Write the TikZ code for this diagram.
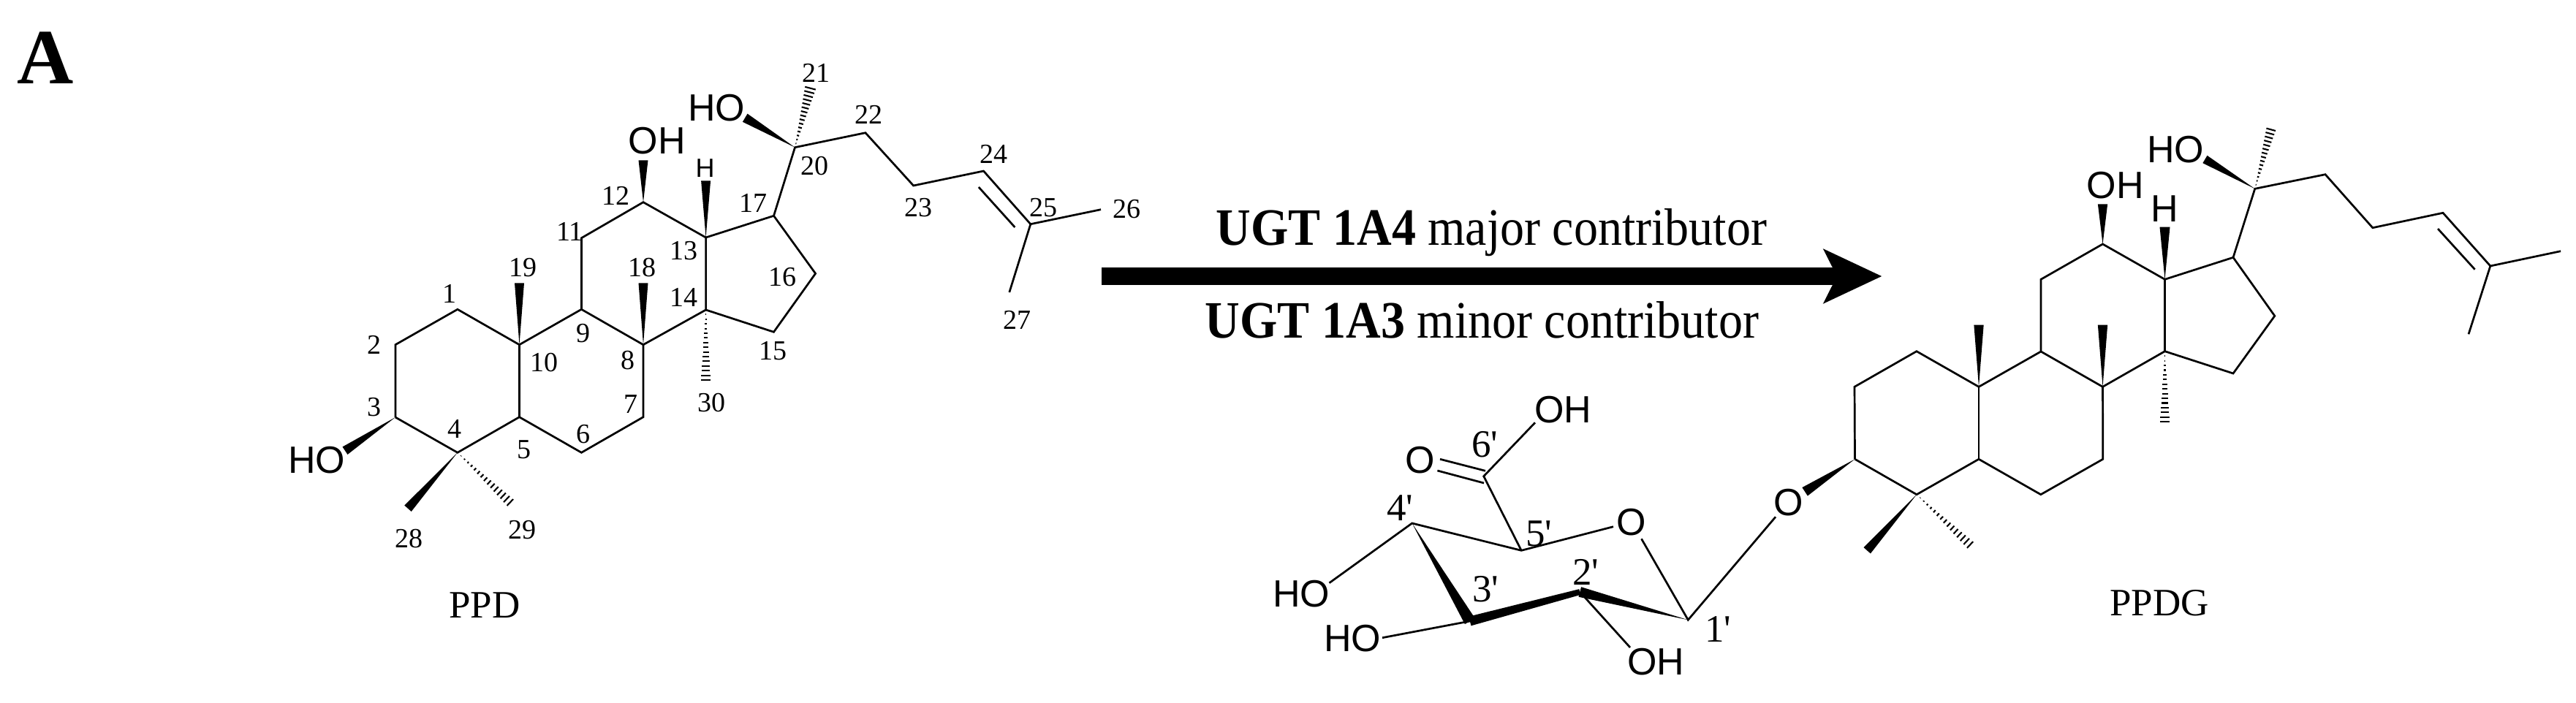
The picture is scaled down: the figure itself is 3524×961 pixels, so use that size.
\documentclass[tikz,border=0pt]{standalone}
\usepackage{fontspec}
\usetikzlibrary{calc,arrows.meta}
\newfontfamily\chemserif{Liberation Serif}
\newfontfamily\chemsans{Liberation Sans}
\tikzset{
  bond/.style={draw=black,line width=2.7pt,line join=miter},
  hashline/.style={draw=black,line width=2.1pt},
  numlbl/.style={inner sep=0pt,font=\chemserif\fontsize{38}{40}\selectfont},
  primelbl/.style={inner sep=0pt,font=\chemserif\fontsize{53}{55}\selectfont},
  namelbl/.style={inner sep=0pt,font=\chemserif\fontsize{53}{55}\selectfont},
  atomlbl/.style={inner sep=0pt,font=\chemsans\fontsize{52}{55}\selectfont},
  smallatom/.style={inner sep=0pt,font=\chemsans\fontsize{36}{38}\selectfont},
  reactlbl/.style={inner sep=0pt,anchor=base,font=\chemserif\fontsize{66}{68}\selectfont},
  panellbl/.style={inner sep=0pt,font=\chemserif\bfseries\fontsize{107}{110}\selectfont},
  bigarrow/.style={draw=black,line width=24pt,-{Stealth[length=79pt,width=72.6pt,inset=17.5pt]}}
}
\newcommand{\wdg}[3]{\fill[black] (#1) -- ($(#2)!#3/2!90:(#1)$) -- ($(#2)!#3/2!-90:(#1)$) -- cycle;}
\newcommand{\hsh}[3]{\foreach \i in {1,...,15}{
  \pgfmathsetmacro{\f}{\i/15}
  \draw[hashline] ($(#1)!\f!(#2)!\f*#3/2!90:(#1)$) -- ($(#1)!\f!(#2)!\f*#3/2!-90:(#1)$);}}
\begin{document}
\begin{tikzpicture}[x=1pt,y=-1pt]
\path[fill=white,use as bounding box] (0,0) rectangle (3524,961);
\node[panellbl] (panel) at (62,79.5) {A};

% ---------- PPD atoms
\foreach \n/\x/\y in {a1/625.9/423.3,a2/540.9/471.7,a3/540.9/571,a4/625.9/619.3,a5/710.5/570.7,a6/795.4/619.3,
 a7/880/570.7,a8/880/471.7,a9/795.4/423.3,a10/710.5/471.7,a11/795.4/325.7,a12/880/276.7,a13/965.6/325,a14/965.6/424,
 a15/1058.5/454.3,a16/1115.6/374.3,a17/1058.5/295.3,a20/1087.5/201.7,a22/1183.9/181.7,a23/1249.6/254,a24/1345.5/234,
 a25/1409.8/306.7,a26/1506/286.7,a27/1380.8/400,a24i/1338.8/256,a25i/1388.4/311,
 a12w/880/219.3,a13w/965.6/247.3,a18w/880/387.3,a19w/710.5/387.3,a3w/472/616.7,a28w/558/695.8,a29h/697.8/687.5,
 a30h/965.6/520,a20w/1019.2/161.2,a21h/1108.5/120.7}
 {\coordinate (\n) at (\x,\y);}

\draw[bond] (a3)--(a2)--(a1)--(a10)--(a9)--(a8)--(a14)--(a13)--(a12)--(a11)--(a9);
\draw[bond] (a3)--(a4)--(a5)--(a6)--(a7)--(a8);
\draw[bond] (a10)--(a5);
\draw[bond] (a13)--(a17)--(a16)--(a15)--(a14);
\draw[bond] (a17)--(a20)--(a22)--(a23)--(a24)--(a25)--(a26);
\draw[bond] (a25)--(a27);
\draw[bond] (a24i)--(a25i);
\wdg{a12}{a12w}{13pt}
\wdg{a13}{a13w}{13pt}
\wdg{a8}{a18w}{13pt}
\wdg{a10}{a19w}{13pt}
\wdg{a3}{a3w}{12.6pt}
\wdg{a4}{a28w}{12.6pt}
\wdg{a20}{a20w}{13pt}
\hsh{a4}{a29h}{12.3pt}
\hsh{a14}{a30h}{13.4pt}
\hsh{a20}{a21h}{15pt}

\node[atomlbl] (aOH12) at (898.7,193) {OH};
\node[atomlbl] (aHO3) at (433,630) {HO};
\node[atomlbl] (aHO20) at (980,148) {HO};
\node[smallatom] (aH13) at (964.7,230) {H};
\foreach \n/\x/\y in {1/614.8/402.3,2/512.2/471.7,3/512.2/557.3,4/622.4/586.7,5/717/615,6/798/594.3,7/863/553.3,
 8/859.3/493.3,9/798/456,10/744.5/496,11/779.3/316.7,12/842/268.3,13/935.7/343.3,14/935.7/406.7,15/1057.6/480,
 16/1070.5/379,17/1030.8/277.7,18/878.9/365.7,19/715.8/365.7,20/1114/226.7,21/1116.5/100,22/1188/157.3,23/1256/284,
 24/1359/211,25/1427.7/284.3,26/1541.5/286,27/1391/438.3,28/559/737.3,29/714.3/725,30/973/551}
 {\node[numlbl] (n\n) at (\x,\y) {\n};}
\node[namelbl] (ppd) at (662.7,828.3) {PPD};

% ---------- reaction arrow
\coordinate (arrowfrom) at (1507.4,378);
\coordinate (arrowto) at (2574.5,378);
\draw[bigarrow] (arrowfrom) -- (arrowto);
\node[reactlbl] (major) at (2040.5,335) {\scalebox{1}[1.09]{\textbf{UGT 1A4} major contributor}};
\node[reactlbl] (minor) at (2027.5,462) {\scalebox{1}[1.09]{\textbf{UGT 1A3} minor contributor}};

% ---------- PPDG atoms
\foreach \n/\x/\y in {b1/2621.9/480.7,b2/2537/529.3,b3/2537.5/628.3,b4/2622/676.7,b5/2707/628.3,b6/2791.8/676.7,b7/2876.8/628.3,
 b8/2876.5/529.3,b9/2792/481,b10/2707/529.3,b11/2792/382.3,b12/2876.5/334,b13/2961.5/382.3,b14/2961.5/480.7,
 b15/3055/511,b16/3111.8/432.3,b17/3055/352.3,b20/3084.7/258.3,b22/3181/238.7,b23/3245.8/311.7,b24/3342/291.3,
 b25/3406.8/364,b26/3503/343.7,b27/3377/457.3,b24i/3335/313,b25i/3385.6/368.7,
 b12w/2876.5/279.3,b13w/2961.5/310.7,b18w/2876.5/444.7,b19w/2707/444.7,b3w/2469.1/672.8,b28w/2554.2/753.3,b29h/2695/745.5,
 b30h/2961.5/577.3,b20w/3016.4/218,b21h/3106.7/177.3}
 {\coordinate (\n) at (\x,\y);}

\draw[bond] (b3)--(b2)--(b1)--(b10)--(b9)--(b8)--(b14)--(b13)--(b12)--(b11)--(b9);
\draw[bond] (b3)--(b4)--(b5)--(b6)--(b7)--(b8);
\draw[bond] (b10)--(b5);
\draw[bond] (b13)--(b17)--(b16)--(b15)--(b14);
\draw[bond] (b17)--(b20)--(b22)--(b23)--(b24)--(b25)--(b26);
\draw[bond] (b25)--(b27);
\draw[bond] (b24i)--(b25i);
\wdg{b12}{b12w}{13.3pt}
\wdg{b13}{b13w}{14pt}
\wdg{b8}{b18w}{13.3pt}
\wdg{b10}{b19w}{13.3pt}
\wdg{b3}{b3w}{13.7pt}
\wdg{b4}{b28w}{12.5pt}
\wdg{b20}{b20w}{12pt}
\hsh{b4}{b29h}{12pt}
\hsh{b14}{b30h}{13.3pt}
\hsh{b20}{b21h}{13pt}

\node[atomlbl] (bOH12) at (2893.7,254) {OH};
\node[atomlbl] (bH13) at (2961,286) {H};
\node[atomlbl] (bHO20) at (2976,205) {HO};
\node[namelbl] (ppdg) at (2953.8,825) {PPDG};

% ---------- glucuronide
\foreach \n/\x/\y in {s1/2309.3/848.3,s2/2161.3/810,s3/2010.8/850,s4/1931.7/716,s5/2081.2/753.3,s6/2029.7/651.7,
 oaR/2207/720.7,obR/2245.5/737.3,ocB/2429/707.3,ohU/2100/578.3,hoL/1818.5/797.7,ho3/1891/872.7,oh2/2230/886,
 d1a/1970/628.3,d1b/2032/644.3,d2a/1966.4/644,d2b/2030/661}
 {\coordinate (\n) at (\x,\y);}
\node[atomlbl] (sOr) at (2231.7,715) {O};
\node[atomlbl] (sOb) at (2447,687.5) {O};
\node[atomlbl] (sOd) at (1943,630) {O};
\node[atomlbl] (sOH6) at (2138.4,560.7) {OH};
\node[atomlbl] (sHO4) at (1780,813) {HO};
\node[atomlbl] (sHO3) at (1850,874) {HO};
\node[atomlbl] (sOH2) at (2265,905.7) {OH};
\draw[bond] (oaR)--(s5)--(s4)--(hoL);
\draw[bond] (obR)--(s1)--(ocB);
\draw[bond] (s5)--(s6)--(ohU);
\draw[bond] (d1a)--(d1b);
\draw[bond] (d2a)--(d2b);
\draw[bond] (s3)--(ho3);
\draw[bond] (s2)--(oh2);
\wdg{s4}{s3}{16pt}
\wdg{s1}{s2}{14pt}
\fill[black] ($(s3)!6.5pt!90:(s2)$) -- ($(s3)!6.5pt!-90:(s2)$) -- ($(s2)!4pt!90:(s3)$) -- ($(s2)!4pt!-90:(s3)$) -- cycle;
\foreach \n/\t/\x/\y in {p1/1/2350/861,p2/2/2169/783,p3/3/2032/806,p4/4/1915.4/695,p5/5/2105/730,p6/6/2031/608}
 {\node[primelbl] (\n) at (\x,\y) {\t'};}
\end{tikzpicture}
\end{document}
